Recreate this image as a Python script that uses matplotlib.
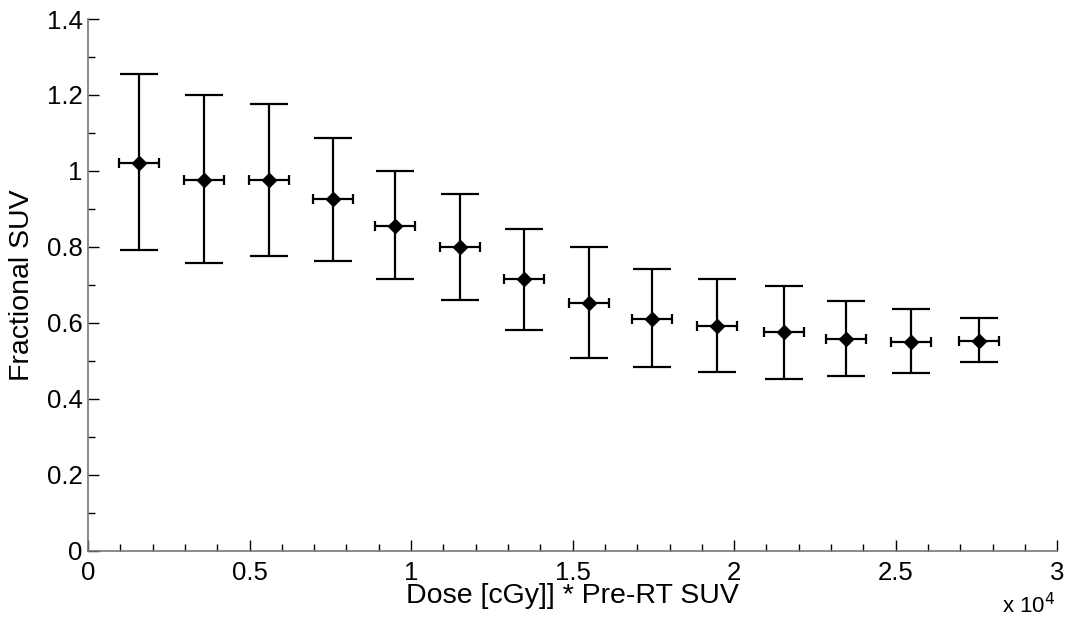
import matplotlib.pyplot as plt
from matplotlib.ticker import FuncFormatter, MultipleLocator

plt.rcParams['font.family'] = ['Liberation Sans', 'DejaVu Sans']

dose = [1590, 3590, 5590, 7580, 9510, 11510, 13500, 15520, 17470, 19480, 21540, 23450, 25470, 27590]
suv = [1.022, 0.976, 0.976, 0.925, 0.856, 0.800, 0.715, 0.653, 0.611, 0.593, 0.575, 0.558, 0.551, 0.553]
suv_hi = [1.255, 1.199, 1.176, 1.086, 1.000, 0.939, 0.847, 0.801, 0.743, 0.716, 0.698, 0.657, 0.638, 0.613]
suv_lo = [0.792, 0.757, 0.776, 0.764, 0.716, 0.661, 0.581, 0.508, 0.483, 0.471, 0.452, 0.461, 0.469, 0.498]
dose_err = [620] * len(dose)

yerr = [[m - l for m, l in zip(suv, suv_lo)], [h - m for m, h in zip(suv, suv_hi)]]

fig = plt.figure(figsize=(10.69, 6.23), dpi=100)
ax = fig.add_axes([0.0823, 0.1156, 0.9067, 0.8539])

ax.errorbar(dose, suv, yerr=yerr, fmt='none', ecolor='k', elinewidth=1.6,
            capsize=14, capthick=1.6)
ax.errorbar(dose, suv, xerr=dose_err, fmt='D', color='k', ms=7.5, ecolor='k',
            elinewidth=1.6, capsize=3.4, capthick=1.6)

ax.set_xlim(0, 30000)
ax.set_ylim(0, 1.4)
ax.xaxis.set_major_locator(MultipleLocator(5000))
ax.xaxis.set_minor_locator(MultipleLocator(1000))
ax.yaxis.set_major_locator(MultipleLocator(0.2))
ax.yaxis.set_minor_locator(MultipleLocator(0.1))
ax.xaxis.set_major_formatter(FuncFormatter(lambda v, p: f"{v / 1e4:g}"))
ax.yaxis.set_major_formatter(FuncFormatter(lambda v, p: f"{round(v, 1):g}"))

for s in ['top', 'right']:
    ax.spines[s].set_visible(False)
for s in ['left', 'bottom']:
    ax.spines[s].set_color('#777777')
    ax.spines[s].set_linewidth(1.2)
ax.tick_params(which='both', direction='in', color='k', labelsize=18.5)
ax.tick_params(axis='x', pad=7)
ax.tick_params(axis='y', pad=4)
ax.tick_params(which='major', length=8, width=1)
ax.tick_params(which='minor', length=5, width=1)

ax.set_xlabel("Dose [cGy]] * Pre-RT SUV", fontsize=20.5, labelpad=-1)
ax.set_ylabel("Fractional SUV", fontsize=20.5, labelpad=8)
fig.text(0.987, 0.008, r"x 10$^4$", ha='right', va='bottom', fontsize=16)

plt.savefig("out.png", dpi=100)
